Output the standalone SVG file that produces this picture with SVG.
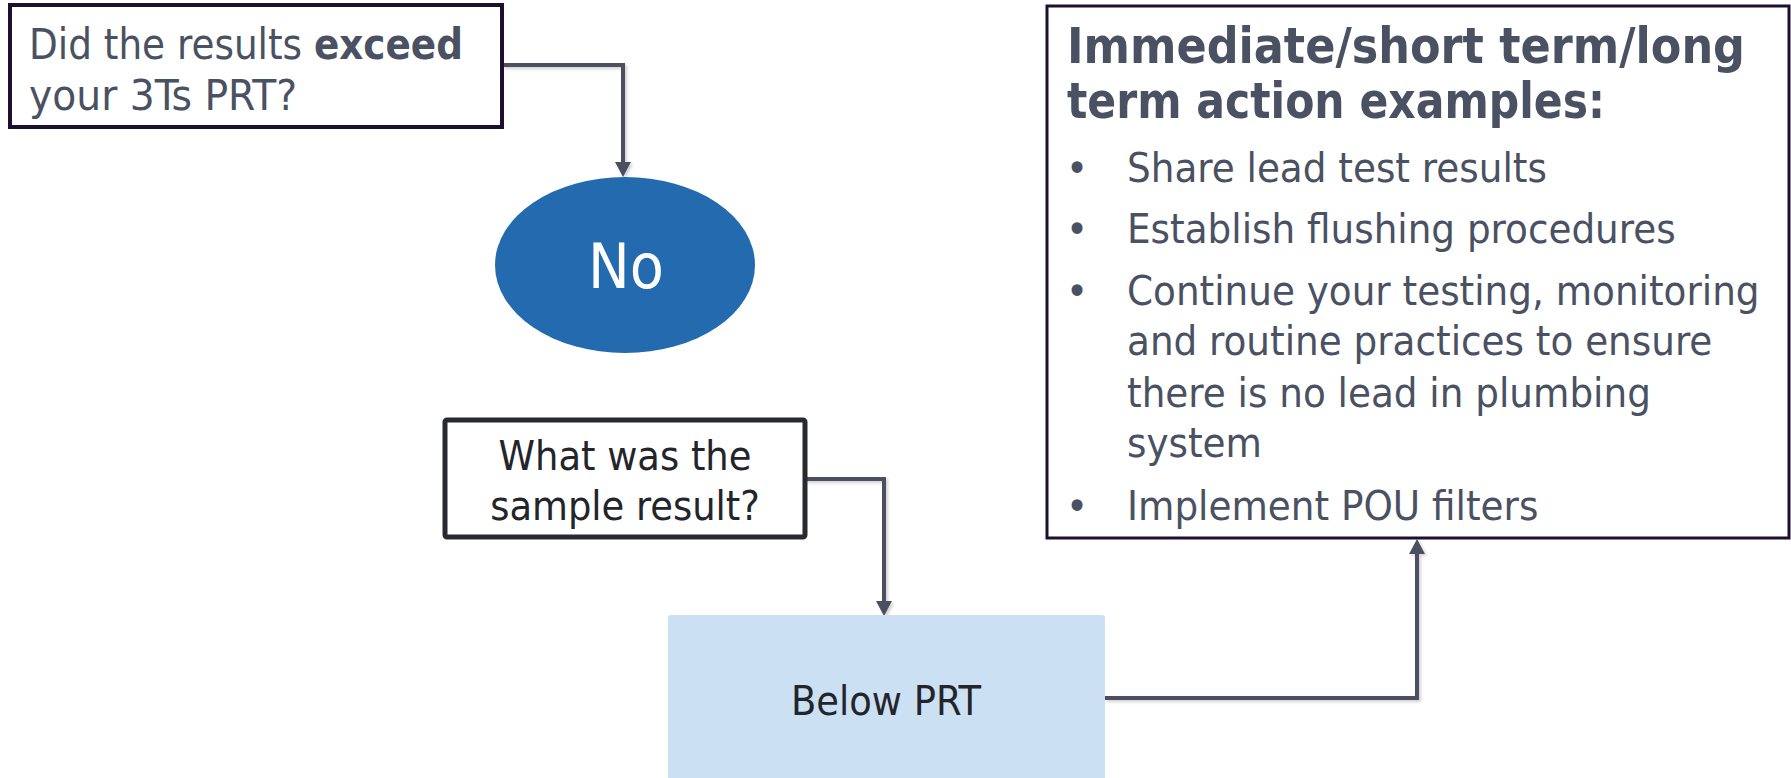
<svg xmlns="http://www.w3.org/2000/svg" width="1791" height="778" viewBox="0 0 1791 778">
  <style>
    .t { font-family: "DejaVu Sans Condensed", "DejaVu Sans", sans-serif; }
    .grey { fill: #4a5162; }
    .dark { fill: #23252b; }
    .conn { fill: none; stroke: #4b5061; stroke-width: 4; marker-end: url(#arrow); filter: url(#shadow); }
  </style>
  <defs>
    <marker id="arrow" markerUnits="userSpaceOnUse" markerWidth="16" markerHeight="16" refX="1" refY="8" orient="auto">
      <path d="M0,0 L15,8 L0,16 z" fill="#4b5061"/>
    </marker>
    <filter id="shadow" x="-20%" y="-20%" width="140%" height="140%">
      <feDropShadow dx="2" dy="2" stdDeviation="1.5" flood-color="#000" flood-opacity="0.18"/>
    </filter>
  </defs>
  <rect width="1791" height="778" fill="#ffffff"/>

  <g id="connectors">
    <path class="conn" d="M502,65 H623 V163"/>
    <path class="conn" d="M624,354 V405"/>
    <path class="conn" d="M805,479 H884 V602"/>
    <path class="conn" d="M1105,698 H1417 V553"/>
  </g>

  <g id="question-exceed">
    <rect x="10" y="5" width="492" height="122" fill="#ffffff" stroke="#1e0f2e" stroke-width="4"/>
    <text class="t grey" x="29" y="59" font-size="43" textLength="434" lengthAdjust="spacingAndGlyphs">Did the results <tspan font-weight="bold">exceed</tspan></text>
    <text class="t grey" x="29" y="110" font-size="43" textLength="268" lengthAdjust="spacingAndGlyphs">your 3Ts PRT?</text>
  </g>

  <g id="answer-no">
    <ellipse cx="625" cy="265" rx="130" ry="88" fill="#236aaf"/>
    <text class="t" x="626" y="288" font-size="62" fill="#ffffff" text-anchor="middle">No</text>
  </g>

  <g id="question-sample">
    <rect x="445" y="420" width="360" height="117" rx="2" fill="#ffffff" stroke="#282a30" stroke-width="5"/>
    <text class="t dark" x="625" y="470" font-size="41" text-anchor="middle">What was the</text>
    <text class="t dark" x="625" y="520" font-size="41" text-anchor="middle">sample result?</text>
  </g>

  <g id="below-prt">
    <rect x="668" y="615" width="437" height="175" rx="3" fill="#cce0f4"/>
    <text class="t dark" x="886" y="715" font-size="41" text-anchor="middle">Below PRT</text>
  </g>

  <g id="actions">
    <rect x="1047" y="6" width="742" height="532" fill="#ffffff" stroke="#1e0f2e" stroke-width="3"/>
    <text class="t grey" x="1067" y="63" font-size="49" font-weight="bold" textLength="678" lengthAdjust="spacingAndGlyphs">Immediate/short term/long</text>
    <text class="t grey" x="1067" y="118" font-size="49" font-weight="bold" textLength="538" lengthAdjust="spacingAndGlyphs">term action examples:</text>
    <g class="t grey" font-size="41.5">
      <text x="1066" y="182">•</text>
      <text x="1127" y="182">Share lead test results</text>
      <text x="1066" y="243">•</text>
      <text x="1127" y="243">Establish flushing procedures</text>
      <text x="1066" y="305">•</text>
      <text x="1127" y="305">Continue your testing, monitoring</text>
      <text x="1127" y="355">and routine practices to ensure</text>
      <text x="1127" y="407">there is no lead in plumbing</text>
      <text x="1127" y="457">system</text>
      <text x="1066" y="520">•</text>
      <text x="1127" y="520">Implement POU filters</text>
    </g>
  </g>
</svg>
